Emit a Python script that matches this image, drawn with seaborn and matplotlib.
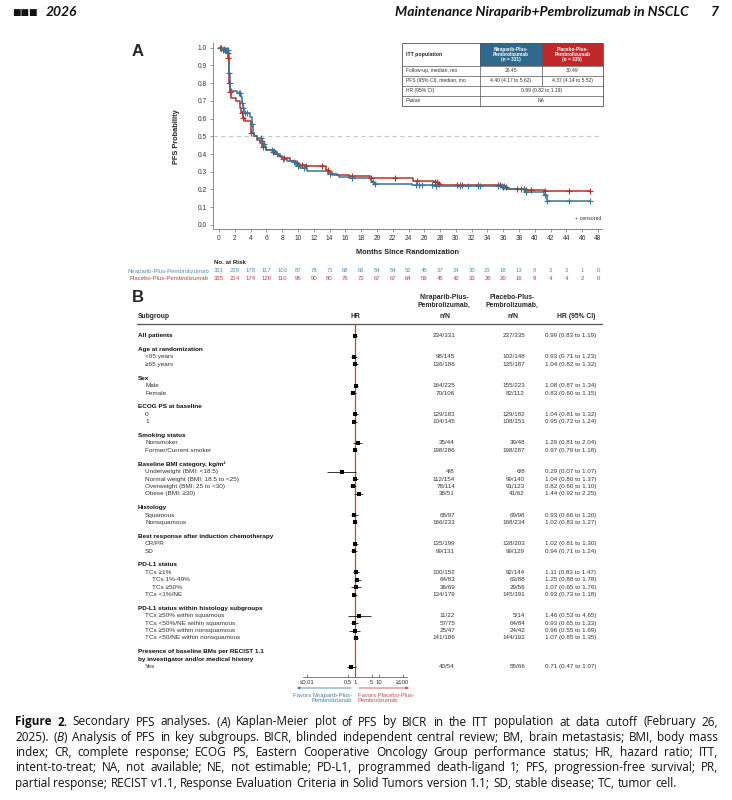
import numpy as np
import pandas as pd
import matplotlib
matplotlib.use("Agg")
import matplotlib.pyplot as plt
import matplotlib.transforms as mtransforms
from matplotlib.patches import Rectangle
from matplotlib.ticker import NullLocator
import seaborn as sns

# ---------------- panel A : Kaplan-Meier ----------------
month_ticks = np.arange(0, 49, 2)

nira_time = [0, 0.5, 0.9, 1.15, 1.25, 1.3, 1.35, 1.45, 2.3, 2.8, 2.9, 3.0, 3.15, 3.9, 4.15,
             4.25, 4.4, 4.8, 5.4, 5.6, 5.8, 6.0, 6.9, 7.2, 7.7, 8.1, 8.6, 9.4, 9.8, 10.3,
             11.2, 13.8, 14.3, 15.2, 16.4, 19.2, 19.4, 19.6, 24.5, 27.4, 36.3, 38.7, 41.2,
             41.5, 47.0]
nira_surv = [1.0, 0.995, 0.985, 0.975, 0.93, 0.86, 0.80, 0.755, 0.745, 0.72, 0.69, 0.66, 0.63,
             0.61, 0.57, 0.52, 0.50, 0.49, 0.475, 0.455, 0.44, 0.425, 0.415, 0.40, 0.385, 0.37,
             0.36, 0.355, 0.335, 0.32, 0.305, 0.29, 0.28, 0.27, 0.262, 0.25, 0.24, 0.232, 0.226,
             0.218, 0.203, 0.188, 0.17, 0.137, 0.137]

plac_time = [0, 0.4, 0.8, 1.1, 1.2, 1.25, 1.3, 1.4, 1.5, 2.2, 2.6, 2.7, 2.8, 3.0, 3.3, 4.0,
             4.1, 4.37, 4.8, 5.2, 5.5, 6.0, 6.8, 7.1, 7.5, 8.0, 9.0, 9.8, 10.1, 11.0, 13.6,
             13.9, 14.3, 15.0, 16.5, 19.1, 24.6, 27.2, 27.7, 28.1, 35.8, 36.5, 38.9, 41.3, 47.0]
plac_surv = [1.0, 0.99, 0.985, 0.97, 0.94, 0.88, 0.80, 0.75, 0.715, 0.70, 0.69, 0.66, 0.63,
             0.605, 0.585, 0.58, 0.52, 0.50, 0.48, 0.46, 0.44, 0.425, 0.41, 0.40, 0.39, 0.375,
             0.36, 0.35, 0.34, 0.33, 0.31, 0.30, 0.29, 0.28, 0.274, 0.263, 0.248, 0.24, 0.232,
             0.225, 0.212, 0.203, 0.197, 0.19, 0.19]

nira_cens = [0.3, 0.6, 0.9, 1.0, 1.1, 1.3, 1.4, 1.5, 2.5, 2.7, 2.9, 3.0, 3.3, 3.5, 4.2, 5.3,
             5.5, 5.7, 6.7, 7.0, 7.3, 8.1, 9.5, 10.0, 10.8, 14.0, 16.8, 19.5, 19.7, 24.9, 25.3,
             25.7, 27.0, 27.5, 30.5, 31.5, 32.8, 33.0, 35.3, 35.8, 36.1, 38.6, 38.9, 41.3,
             41.5, 44.3, 47.0]
plac_cens = [0.1, 0.3, 0.5, 0.7, 1.1, 1.2, 1.3, 1.4, 2.9, 3.0, 4.1, 5.6, 6.8, 8.2, 9.9, 10.5,
             11.0, 13.0, 13.8, 16.8, 19.2, 22.3, 25.1, 27.3, 27.6, 27.9, 30.1, 30.5, 30.8, 32.8,
             35.3, 35.6, 35.9, 36.3, 37.7, 38.3, 38.6, 38.9, 39.5, 41.3, 44.3, 47.0]

nira_risk = [331, 229, 178, 117, 103, 87, 78, 71, 68, 66, 54, 54, 52, 45, 37, 34, 30, 23, 18,
             13, 9, 3, 3, 1, 0]
plac_risk = [335, 214, 174, 126, 110, 95, 90, 80, 76, 72, 67, 67, 64, 59, 45, 42, 33, 26, 20,
             16, 9, 4, 4, 2, 0]

itt_rows = ["Follow-up, median, mo", "PFS (95% CI), median, mo", "HR (95% CI)", "P value"]
itt_nira = ["28.45", "4.40 (4.17 to 5.62)", "0.99 (0.82 to 1.19)", "NA"]
itt_plac = ["30.49", "4.37 (4.14 to 5.52)", None, None]

# ---------------- panel B : subgroup forest ----------------
sub_labels = ["All patients", "Age at randomization", "<65 years", "≥65 years", "Sex", "Male",
              "Female", "ECOG PS at baseline", "0", "1", "Smoking status", "Nonsmoker",
              "Former/Current smoker", "Baseline BMI category, kg/m²", "Underweight (BMI: <18.5)",
              "Normal weight (BMI: 18.5 to <25)", "Overweight (BMI: 25 to <30)",
              "Obese (BMI: ≥30)", "Histology", "Squamous", "Nonsquamous",
              "Best response after induction chemotherapy", "CR/PR", "SD", "PD-L1 status",
              "TCs ≥1%", "TCs 1%-49%", "TCs ≥50%", "TCs <1%/NE",
              "PD-L1 status within histology subgroups", "TCs ≥50% within squamous",
              "TCs <50%/NE within squamous", "TCs ≥50% within nonsquamous",
              "TCs <50/NE within nonsquamous", "Presence of baseline BMs per RECIST 1.1",
              "by investigator and/or medical history", "Yes"]
sub_kind = ["top", "head", "item", "item", "head", "item", "item", "head", "item", "item",
            "head", "item", "item", "head", "item", "item", "item", "item", "head", "item",
            "item", "head", "item", "item", "head", "item", "sub", "sub", "item", "head",
            "item", "item", "item", "item", "head", "head2", "item"]
nira_nN = ["234/331", None, "98/145", "136/186", None, "164/225", "70/106", None, "129/183",
           "104/145", None, "35/44", "198/286", None, "4/8", "112/154", "78/114", "38/51", None,
           "68/97", "166/233", None, "135/199", "99/131", None, "100/152", "64/83", "36/69",
           "134/179", None, "11/22", "57/75", "25/47", "141/186", None, None, "40/54"]
plac_nN = ["237/335", None, "102/148", "135/187", None, "155/223", "82/112", None, "129/182",
           "108/151", None, "39/48", "198/287", None, "6/8", "99/140", "91/123", "41/62", None,
           "69/98", "168/234", None, "138/203", "99/129", None, "92/144", "63/88", "29/56",
           "145/191", None, "5/14", "64/84", "24/42", "144/192", None, None, "55/66"]
hr_est = [0.99, None, 0.93, 1.04, None, 1.08, 0.83, None, 1.04, 0.95, None, 1.29, 0.97, None,
          0.29, 1.04, 0.82, 1.44, None, 0.93, 1.02, None, 1.02, 0.94, None, 1.11, 1.25, 1.07,
          0.93, None, 1.46, 0.93, 0.96, 1.07, None, None, 0.71]
hr_lo = [0.83, None, 0.71, 0.82, None, 0.87, 0.60, None, 0.81, 0.72, None, 0.81, 0.79, None,
         0.07, 0.80, 0.60, 0.92, None, 0.66, 0.83, None, 0.81, 0.71, None, 0.83, 0.88, 0.65,
         0.73, None, 0.53, 0.65, 0.55, 0.85, None, None, 0.47]
hr_hi = [1.19, None, 1.23, 1.32, None, 1.34, 1.15, None, 1.32, 1.24, None, 2.04, 1.18, None,
         1.07, 1.37, 1.10, 2.25, None, 1.30, 1.27, None, 1.30, 1.24, None, 1.47, 1.78, 1.76,
         1.18, None, 4.65, 1.33, 1.69, 1.35, None, None, 1.07]
hr_ticks = [0.01, 0.5, 1, 5, 10, 100]
hr_ticklabels = ["≤0.01", "0.5", "1", "5", "10", "≥100"]

caption_lines = [
    "^Figure^ ^2.^ Secondary PFS analyses. (_A_) Kaplan-Meier plot of PFS by BICR in the ITT population at data cutoff (February 26,",
    "2025). (_B_) Analysis of PFS in key subgroups. BICR, blinded independent central review; BM, brain metastasis; BMI, body mass",
    "index; CR, complete response; ECOG PS, Eastern Cooperative Oncology Group performance status; HR, hazard ratio; ITT,",
    "intent-to-treat; NA, not available; NE, not estimable; PD-L1, programmed death-ligand 1; PFS, progression-free survival; PR,",
    "partial response; RECIST v1.1, Response Evaluation Criteria in Solid Tumors version 1.1; SD, stable disease; TC, tumor cell.",
]

BLUE = "#3a7596"
RED = "#b5332b"
BLUE_TXT = "#5b8db0"
RED_TXT = "#b8453e"
HEAD_BLUE = "#2f6a8c"
HEAD_RED = "#c0282a"
GREY = "#333333"
PAGE_FONT = ["Lato", "DejaVu Sans"]
CAP_FONT = ["Open Sans", "DejaVu Sans"]

sns.set_theme(style="ticks")
plt.rcParams["font.family"] = ["Liberation Sans", "DejaVu Sans"]
plt.rcParams["axes.unicode_minus"] = False

fig = plt.figure(figsize=(7.32, 8.0), dpi=100)


def px_box(x, y, w, h):
    return [x / 732, 1 - (y + h) / 800, w / 732, h / 800]


# overlay in page pixels for text and table rules
ov = fig.add_axes([0, 0, 1, 1], zorder=10)
ov.set_xlim(0, 732)
ov.set_ylim(800, 0)
ov.axis("off")

# page header
ov.text(12, 12.5, "■■■", fontsize=6.5, family=["DejaVu Sans"], va="center", ha="left",
        color="#111")
ov.text(46, 12, "2026", fontsize=10, family=PAGE_FONT, style="italic",
        fontweight="bold", va="center", ha="left", color="#111")
ov.text(689, 12, "Maintenance Niraparib+Pembrolizumab in NSCLC", fontsize=10,
        family=PAGE_FONT, style="italic", fontweight="bold", va="center", ha="right", color="#111")
ov.text(719, 12, "7", fontsize=10, family=PAGE_FONT, style="italic", fontweight="bold",
        va="center", ha="right", color="#111")

# ---------------- KM plot ----------------
km = fig.add_axes(px_box(212.7, 43.3, 389.3, 185.7))
km.set_facecolor("none")


def at_times(times, surv, t):
    idx = np.searchsorted(times, t, side="right") - 1
    return np.asarray(surv)[idx]


km.axhline(0.5, color="#c8c8c8", lw=0.8, ls=(0, (4, 3)), zorder=1)
sns.lineplot(x=plac_time, y=plac_surv, drawstyle="steps-post", color=RED, lw=1.1,
             errorbar=None, ax=km, zorder=2)
sns.lineplot(x=nira_time, y=nira_surv, drawstyle="steps-post", color=BLUE, lw=1.1,
             errorbar=None, ax=km, zorder=2)
sns.scatterplot(x=plac_cens, y=at_times(plac_time, plac_surv, plac_cens), marker="+",
                color=RED, s=16, linewidth=0.8, ax=km, zorder=3)
sns.scatterplot(x=nira_cens, y=at_times(nira_time, nira_surv, nira_cens), marker="+",
                color=BLUE, s=16, linewidth=0.8, ax=km, zorder=3)

km.set_xlim(-0.8, 48.5)
km.set_ylim(-0.023, 1.025)
km.set_xticks(month_ticks)
km.set_yticks(np.arange(0, 1.01, 0.1))
km.set_yticklabels([f"{v:.1f}" for v in np.arange(0, 1.01, 0.1)])
km.tick_params(labelsize=4.8, length=2.5, width=0.6, color="#888", labelcolor=GREY, pad=1.5)
sns.despine(ax=km)
for s in ["left", "bottom"]:
    km.spines[s].set_color("#8a8a8a")
    km.spines[s].set_linewidth(0.7)
km.set_ylabel("PFS Probability", fontsize=5.3, fontweight="bold", color="#222")
km.yaxis.set_label_coords(-0.084, 0.5)
km.set_xlabel("Months Since Randomization", fontsize=5.3, fontweight="bold", color="#222")
km.xaxis.set_label_coords(0.5, -0.108)

ov.text(137.5, 52, "A", fontsize=12, fontweight="bold", ha="center", va="center")
ov.text(601, 219, "+ censored", fontsize=3.8, ha="right", va="center", color=GREY)

# ITT table inset
cx = [401.5, 480, 541.7, 602.7]
ry = [43.3, 65.7, 75.7, 85.7, 95.7, 105.7]
ov.add_patch(Rectangle((cx[1], ry[0]), cx[2] - cx[1], ry[1] - ry[0], color=HEAD_BLUE, lw=0))
ov.add_patch(Rectangle((cx[2], ry[0]), cx[3] - cx[2], ry[1] - ry[0], color=HEAD_RED, lw=0))
ov.add_patch(Rectangle((cx[0], ry[0]), cx[3] - cx[0], ry[-1] - ry[0], fill=False,
                       edgecolor="#555", lw=0.6))
for y in ry[1:-1]:
    ov.plot([cx[0], cx[3]], [y, y], color="#555", lw=0.5)
ov.plot([cx[1], cx[1]], [ry[0], ry[-1]], color="#555", lw=0.5)
ov.plot([cx[2], cx[2]], [ry[0], ry[3]], color="#555", lw=0.5)
ov.text(cx[0] + 4, (ry[0] + ry[1]) / 2, "ITT population", fontsize=3.7, fontweight="bold",
        va="center", ha="left", color="#222")
ov.text((cx[1] + cx[2]) / 2, (ry[0] + ry[1]) / 2, "Niraparib-Plus-\nPembrolizumab\n(n = 331)",
        fontsize=3.4, fontweight="bold", color="white", ha="center", va="center", linespacing=1.1)
ov.text((cx[2] + cx[3]) / 2, (ry[0] + ry[1]) / 2, "Placebo-Plus-\nPembrolizumab\n(n = 335)",
        fontsize=3.4, fontweight="bold", color="white", ha="center", va="center", linespacing=1.1)
for i, (lab, a, b) in enumerate(zip(itt_rows, itt_nira, itt_plac)):
    yc = (ry[i + 1] + ry[i + 2]) / 2
    if lab.startswith("P value"):
        ov.text(cx[0] + 4, yc, "P", fontsize=3.6, style="italic", va="center", ha="left", color=GREY)
        ov.text(cx[0] + 7.5, yc, "value", fontsize=3.6, va="center", ha="left", color=GREY)
    else:
        ov.text(cx[0] + 4, yc, lab, fontsize=3.6, va="center", ha="left", color=GREY)
    if b is None:
        ov.text((cx[1] + cx[3]) / 2, yc, a, fontsize=3.6, va="center", ha="center", color=GREY)
    else:
        ov.text((cx[1] + cx[2]) / 2, yc, a, fontsize=3.6, va="center", ha="center", color=GREY)
        ov.text((cx[2] + cx[3]) / 2, yc, b, fontsize=3.6, va="center", ha="center", color=GREY)

# number at risk
risk_tr = mtransforms.blended_transform_factory(km.transData, ov.transData)
ov.text(214, 262, "No. at Risk", fontsize=4.4, fontweight="bold", ha="left", va="center",
        color="#222")
ov.text(209, 271, "Niraparib-Plus-Pembrolizumab", fontsize=4.3, ha="right", va="center",
        color=BLUE_TXT)
ov.text(209, 279, "Placebo-Plus-Pembrolizumab", fontsize=4.3, ha="right", va="center",
        color=RED_TXT)
for m, a, b in zip(month_ticks, nira_risk, plac_risk):
    ov.text(m, 271, str(a), transform=risk_tr, fontsize=4.3, ha="center", va="center",
            color=BLUE_TXT)
    ov.text(m, 279, str(b), transform=risk_tr, fontsize=4.3, ha="center", va="center",
            color=RED_TXT)

# ---------------- forest plot ----------------
pos = []
p = 0.0
for i, k in enumerate(sub_kind):
    if i > 0:
        p += 1.88 if k == "head" else 1.0
    pos.append(p)

df = pd.DataFrame({"label": sub_labels, "kind": sub_kind, "pos": pos, "n1": nira_nN,
                   "n2": plac_nN, "hr": hr_est, "lo": hr_lo, "hi": hr_hi})
dd = df.dropna(subset=["hr"])

fa = fig.add_axes(px_box(303.3, 324, 103.4, 353))
fa.set_facecolor("none")
fa.set_xscale("log")
fa.axvline(1, color="#c9472f", lw=0.9, zorder=1)
fa.hlines(dd["pos"], dd["lo"], dd["hi"], color="black", lw=0.55, zorder=2)
sns.scatterplot(data=dd, x="hr", y="pos", marker="s", color="black", s=5, linewidth=0,
                ax=fa, zorder=3)
fa.set_xlim(0.0068, 147)
fa.set_ylim(46.2, -1.58)
fa.set_xticks(hr_ticks)
fa.set_xticklabels(hr_ticklabels)
fa.xaxis.set_minor_locator(NullLocator())
fa.set_yticks([])
fa.set_xlabel("")
fa.set_ylabel("")
sns.despine(ax=fa, left=True)
fa.spines["bottom"].set_color("#666")
fa.spines["bottom"].set_linewidth(0.6)
fa.tick_params(axis="x", direction="in", length=2, width=0.6, color="#666", labelsize=4.2,
               labelcolor=GREY, pad=2)

arrow_tr = mtransforms.blended_transform_factory(fa.transData, ov.transData)
fa.annotate("", xy=(0.0028, 688), xytext=(0.9, 688), xycoords=arrow_tr, textcoords=arrow_tr,
            annotation_clip=False,
            arrowprops=dict(arrowstyle="-|>", color="#4a7fa5", lw=0.6, mutation_scale=4))
fa.annotate("", xy=(240, 688), xytext=(1.12, 688), xycoords=arrow_tr, textcoords=arrow_tr,
            annotation_clip=False,
            arrowprops=dict(arrowstyle="-|>", color="#c0504d", lw=0.6, mutation_scale=4))
ov.text(352, 698, "Favors Niraparib-Plus-\nPembrolizumab", fontsize=4.2, ha="right",
        va="center", color="#4a7fa5", linespacing=1.15, multialignment="right")
ov.text(358, 698, "Favors Placebo-Plus-\nPembrolizumab", fontsize=4.2, ha="left",
        va="center", color="#c0504d", linespacing=1.15)

# table header
ov.text(137.5, 298, "B", fontsize=12, fontweight="bold", ha="center", va="center")
ov.plot([137, 602], [324, 324], color="#555", lw=0.9)
ov.text(138, 316.7, "Subgroup", fontsize=4.9, fontweight="bold", ha="left", va="center")
ov.text(355, 316.7, "HR", fontsize=4.9, fontweight="bold", ha="center", va="center")
ov.text(444, 301, "Niraparib-Plus-\nPembrolizumab,", fontsize=4.9, fontweight="bold",
        ha="center", va="center", linespacing=1.15)
ov.text(445, 316.7, "n/N", fontsize=4.9, fontweight="bold", ha="center", va="center")
ov.text(512, 301, "Placebo-Plus-\nPembrolizumab,", fontsize=4.9, fontweight="bold",
        ha="center", va="center", linespacing=1.15)
ov.text(513, 316.7, "n/N", fontsize=4.9, fontweight="bold", ha="center", va="center")
ov.text(576.5, 316.7, "HR (95% CI)", fontsize=4.9, fontweight="bold", ha="center", va="center")

row_tr = mtransforms.blended_transform_factory(ov.transData, fa.transData)
indent = {"top": 138, "head": 138, "head2": 138, "item": 145, "sub": 152}
for r in df.itertuples():
    bold = r.kind in ("top", "head", "head2")
    ov.text(indent[r.kind], r.pos, r.label, transform=row_tr, fontsize=4.6,
            fontweight="bold" if bold else "normal", color="#111" if bold else GREY,
            ha="left", va="center")
    if pd.notna(r.hr):
        ov.text(455, r.pos, r.n1, transform=row_tr, fontsize=4.5, ha="right", va="center",
                color=GREY)
        ov.text(525, r.pos, r.n2, transform=row_tr, fontsize=4.5, ha="right", va="center",
                color=GREY)
        ov.text(545, r.pos, f"{r.hr:.2f} ({r.lo:.2f} to {r.hi:.2f})", transform=row_tr,
                fontsize=4.5, ha="left", va="center", color=GREY)


# ---------------- caption, justified ----------------
def segments(word):
    out, buf, bold, ital = [], "", False, False
    for ch in word:
        if ch in "^_":
            if buf:
                out.append((buf, bold, ital))
                buf = ""
            if ch == "^":
                bold = not bold
            else:
                ital = not ital
        else:
            buf += ch
    if buf:
        out.append((buf, bold, ital))
    return out


CAP_FS = 8.5
CAP_X0, CAP_X1 = 15, 718
renderer = fig.canvas.get_renderer()
for li, line in enumerate(caption_lines):
    y = 722 + li * 15.3
    words = []
    for w in line.split():
        parts = []
        for txt, b, it in segments(w):
            t = ov.text(0, y, txt, fontsize=CAP_FS, family=CAP_FONT,
                        fontweight="bold" if b else "normal",
                        style="italic" if it else "normal", va="center", ha="left", color="#111")
            parts.append((t, t.get_window_extent(renderer=renderer).width))
        words.append(parts)
    wsum = sum(wd for parts in words for _, wd in parts)
    if li < len(caption_lines) - 1:
        gap = max((CAP_X1 - CAP_X0 - wsum) / (len(words) - 1), 1.5)
    else:
        gap = CAP_FS * 100 / 72 * 0.26
    x = CAP_X0
    for parts in words:
        for t, wd in parts:
            t.set_x(x)
            x += wd
        x += gap

fig.savefig("out.png", dpi=100, facecolor="white")
